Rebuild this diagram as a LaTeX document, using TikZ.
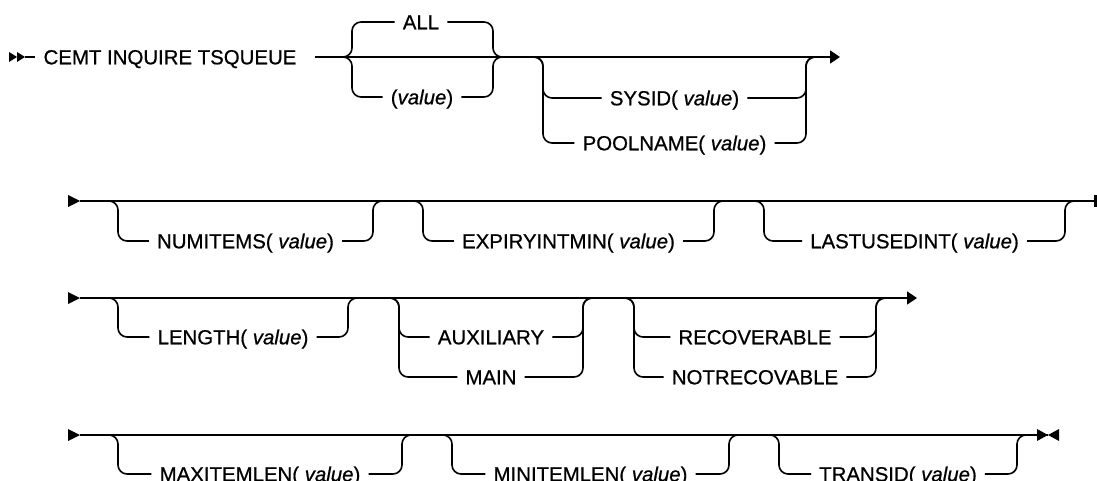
\documentclass[tikz,border=0pt]{standalone}
\usepackage{fontspec}
\setmainfont{Liberation Sans}[FakeBold=0.7]
\usetikzlibrary{arrows.meta}

% optional branch: left junction, right junction, item node
\newcommand{\railopt}[3]{%
  \draw[rail] ([xshift=-10pt]#1) -| (#3.west -| #1) -- (#3.west);
  \draw[rail] (#3.east) -| (#2) -- ([xshift=10pt]#2);
}

\begin{document}
\begin{tikzpicture}[
  x=1pt, y=-1pt,
  every node/.style={font=\fontsize{20.4}{24}\selectfont,
    text height=14.6pt, text depth=0pt, inner xsep=8pt, inner ysep=0pt},
  rail/.style={line width=1.6pt, rounded corners=9pt},
  marker/.style={fill=black},
  arrow/.style={rail, -{Triangle[length=10pt, width=13pt]}}
]
  \useasboundingbox (0,0) rectangle (1097,481);

  % Row 1: command and ALL / (value)
  \node (cmd) at (170,57) {CEMT INQUIRE TSQUEUE};
  \node (all) at (421,22) {ALL};
  \node (val) at (422,97) {(\textit{value})};
  \node (sysid) at (674.5,98) {SYSID( \textit{value})};
  \node (pool) at (674.5,143) {POOLNAME( \textit{value})};
  \coordinate (L0) at (352,57);  \coordinate (R0) at (493,57);
  \coordinate (L1) at (543,57);  \coordinate (R1) at (806,57);
  \coordinate (end1) at (840,57);

  \fill[marker] (9,52) -- (17,57) -- (9,62) -- cycle;
  \fill[marker] (17,52) -- (25,57) -- (17,62) -- cycle;
  \draw[rail] (25,57) -- (cmd.west);
  \draw[arrow] ([xshift=10pt]cmd.east) -- (end1);
  \railopt{L0}{R0}{all}
  \railopt{L0}{R0}{val}
  \railopt{L1}{R1}{sysid}
  \railopt{L1}{R1}{pool}

  % Row 2
  \node (numitems) at (245.5,241) {NUMITEMS( \textit{value})};
  \node (expiry) at (568.5,241) {EXPIRYINTMIN( \textit{value})};
  \node (lastused) at (914.5,241) {LASTUSEDINT( \textit{value})};
  \coordinate (L2a) at (118,201);  \coordinate (R2a) at (373,201);
  \coordinate (L2b) at (423,201);  \coordinate (R2b) at (714,201);
  \coordinate (L2c) at (764,201);  \coordinate (R2c) at (1065,201);
  \coordinate (start2) at (80,201); \coordinate (end2) at (1094,201);

  \fill[marker] (68,195) -- (start2) -- (68,207) -- cycle;
  \draw[rail] (start2) -- (end2);
  \fill[marker] (1094,195) rectangle (1097,207);
  \railopt{L2a}{R2a}{numitems}
  \railopt{L2b}{R2b}{expiry}
  \railopt{L2c}{R2c}{lastused}

  % Row 3
  \node (length) at (233,337) {LENGTH( \textit{value})};
  \node (aux) at (491,337) {AUXILIARY};
  \node (main) at (491,377) {MAIN};
  \node (recov) at (755,337) {RECOVERABLE};
  \node (notrecov) at (755,377) {NOTRECOVABLE};
  \coordinate (L3a) at (118,298);  \coordinate (R3a) at (348,298);
  \coordinate (L3b) at (399,298);  \coordinate (R3b) at (583,298);
  \coordinate (L3c) at (634,298);  \coordinate (R3c) at (876,298);
  \coordinate (start3) at (80,298); \coordinate (end3) at (917,298);

  \fill[marker] (68,292) -- (start3) -- (68,304) -- cycle;
  \draw[arrow] (start3) -- (end3);
  \railopt{L3a}{R3a}{length}
  \railopt{L3b}{R3b}{aux}
  \railopt{L3b}{R3b}{main}
  \railopt{L3c}{R3c}{recov}
  \railopt{L3c}{R3c}{notrecov}

  % Row 4
  \node (maxlen) at (260,474) {MAXITEMLEN( \textit{value})};
  \node (minlen) at (590.5,474) {MINITEMLEN( \textit{value})};
  \node (transid) at (898,474) {TRANSID( \textit{value})};
  \coordinate (L4a) at (118,435);  \coordinate (R4a) at (402,435);
  \coordinate (L4b) at (452,435);  \coordinate (R4b) at (729,435);
  \coordinate (L4c) at (779,435);  \coordinate (R4c) at (1017,435);
  \coordinate (start4) at (80,435); \coordinate (end4) at (1048,435);

  \fill[marker] (68,429) -- (start4) -- (68,441) -- cycle;
  \draw[rail] (start4) -- (end4);
  \fill[marker] (1037,429) -- (end4) -- (1037,441) -- cycle;
  \fill[marker] (1059,429) -- (end4) -- (1059,441) -- cycle;
  \railopt{L4a}{R4a}{maxlen}
  \railopt{L4b}{R4b}{minlen}
  \railopt{L4c}{R4c}{transid}
\end{tikzpicture}
\end{document}
